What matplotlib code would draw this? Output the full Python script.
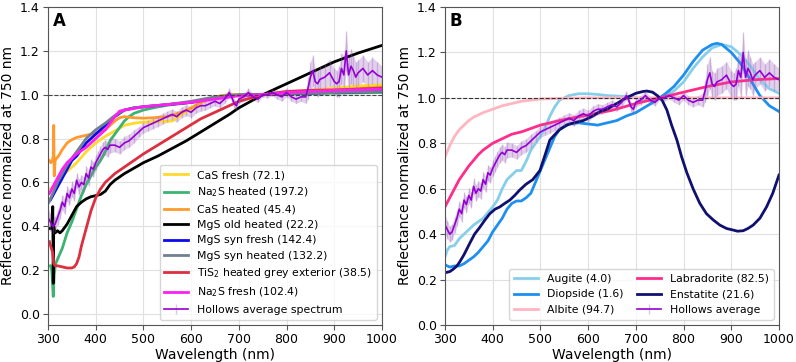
import numpy as np
import matplotlib
matplotlib.use('Agg')
import matplotlib.pyplot as plt

# hollows average spectrum (normalized at 750 nm)
hol_wl = [300,305,310,315,320,325,330,335,340,345,350,355,360,365,370,375,380,385,390,395,
          400,405,410,415,420,425,430,440,450,460,470,480,490,500,510,520,530,540,550,560,
          570,580,590,600,610,620,630,640,650,660,670,680,685,690,695,700,710,720,730,740,
          750,760,770,780,790,800,810,820,830,840,845,850,855,860,865,870,880,890,900,905,
          910,915,920,925,930,935,940,945,950,960,970,980,990,1000]
hol_val = [0.44,0.42,0.40,0.41,0.44,0.47,0.51,0.49,0.55,0.53,0.57,0.55,0.61,0.58,0.60,0.59,0.64,0.62,0.67,0.66,
           0.69,0.71,0.73,0.75,0.76,0.75,0.77,0.77,0.76,0.78,0.79,0.81,0.83,0.85,0.86,0.87,0.88,0.89,0.90,0.91,
           0.90,0.92,0.93,0.92,0.94,0.95,0.95,0.96,0.97,0.96,0.98,1.01,0.99,0.96,0.95,0.98,0.99,1.01,0.99,0.98,
           1.00,1.00,1.01,1.00,0.99,1.01,0.99,0.98,0.99,0.99,1.03,1.08,1.11,1.06,1.05,1.07,1.08,1.10,1.06,1.05,
           1.06,1.12,1.09,1.20,1.09,1.13,1.11,1.08,1.10,1.12,1.09,1.11,1.09,1.08]
hol_err = [0.04,0.04,0.035,0.035,0.035,0.035,0.035,0.035,0.035,0.035,0.035,0.035,0.035,0.035,0.035,0.035,0.035,0.035,0.035,0.035,
           0.035,0.035,0.035,0.035,0.035,0.035,0.035,0.03,0.03,0.03,0.03,0.03,0.025,0.025,0.025,0.025,0.025,0.025,0.025,0.025,
           0.025,0.025,0.025,0.025,0.025,0.025,0.02,0.02,0.02,0.02,0.02,0.02,0.02,0.02,0.02,0.02,0.02,0.02,0.015,0.015,
           0.01,0.015,0.015,0.02,0.02,0.02,0.02,0.02,0.02,0.03,0.05,0.07,0.07,0.06,0.06,0.06,0.06,0.06,0.06,0.06,
           0.07,0.07,0.09,0.09,0.08,0.08,0.07,0.07,0.06,0.06,0.06,0.06,0.06,0.05]

# panel A: sulfides
cas_fresh_wl = [305,310,320,330,340,350,360,380,400,420,440,460,480,500,520,540,560,580,600,620,640,660,680,700,750,800,850,900,950,1000]
cas_fresh = [0.57,0.58,0.60,0.63,0.65,0.67,0.69,0.74,0.78,0.81,0.835,0.86,0.87,0.875,0.877,0.878,0.88,0.91,0.935,0.96,0.985,0.995,1.0,1.0,1.0,1.01,1.02,1.03,1.04,1.045]

na2s_heat_wl = [305,308,311,313,316,320,330,340,350,360,370,380,390,400,410,420,430,440,450,460,470,480,500,520,550,600,650,700,750,800,900,1000]
na2s_heat = [0.22,0.20,0.08,0.18,0.23,0.25,0.30,0.37,0.42,0.48,0.54,0.59,0.63,0.67,0.70,0.74,0.79,0.82,0.85,0.88,0.90,0.915,0.93,0.94,0.952,0.965,0.985,0.998,1.0,1.003,1.007,1.01]

cas_heat_wl = [303,306,309,311,312,313,315,318,322,330,340,350,360,370,380,390,400,420,440,450,460,480,500,520,550,580,600,620,650,680,700,750,800,900,1000]
cas_heat = [0.70,0.69,0.70,0.72,0.86,0.63,0.70,0.71,0.72,0.75,0.78,0.795,0.805,0.81,0.815,0.82,0.825,0.84,0.88,0.895,0.90,0.895,0.893,0.895,0.90,0.92,0.94,0.965,0.99,1.0,1.0,1.0,1.01,1.02,1.035]

mgs_old_wl = [303,308,310,311,312,315,320,325,330,340,350,360,370,380,390,400,410,420,430,440,460,480,500,530,560,590,620,650,680,700,750,800,850,900,950,1000]
mgs_old = [0.39,0.39,0.49,0.14,0.40,0.37,0.38,0.37,0.38,0.41,0.45,0.49,0.51,0.525,0.535,0.54,0.545,0.56,0.59,0.61,0.64,0.665,0.69,0.72,0.755,0.79,0.83,0.87,0.91,0.94,1.0,1.05,1.10,1.15,1.19,1.225]

mgs_fresh_wl = [305,310,315,320,330,340,350,360,370,380,390,400,420,440,460,480,500,550,600,650,700,750,800,900,1000]
mgs_fresh = [0.52,0.54,0.56,0.58,0.62,0.66,0.70,0.72,0.75,0.78,0.80,0.82,0.86,0.90,0.93,0.94,0.945,0.955,0.965,0.985,0.998,1.0,1.005,1.01,1.015]

mgs_heat_wl = [302,310,320,330,340,350,360,370,380,390,400,420,440,460,480,500,550,600,650,700,750,800,900,1000]
mgs_heat = [0.51,0.55,0.60,0.64,0.68,0.71,0.74,0.77,0.80,0.82,0.84,0.87,0.905,0.93,0.94,0.945,0.955,0.97,0.99,1.0,1.0,1.005,1.01,1.015]

tis2_wl = [303,307,310,312,315,320,330,340,350,355,360,365,370,380,390,400,410,420,440,460,480,500,530,560,590,620,650,680,700,750,800,850,900,1000]
tis2 = [0.33,0.30,0.28,0.23,0.22,0.22,0.215,0.21,0.21,0.215,0.23,0.26,0.31,0.39,0.47,0.53,0.57,0.60,0.64,0.67,0.70,0.73,0.77,0.81,0.85,0.89,0.92,0.95,0.97,1.0,1.015,1.02,1.022,1.03]

na2s_fresh_wl = [303,308,315,320,330,340,350,360,370,380,390,400,410,420,430,440,450,460,480,500,550,600,650,700,750,800,850,900,1000]
na2s_fresh = [0.55,0.57,0.60,0.62,0.66,0.69,0.71,0.73,0.745,0.76,0.78,0.80,0.82,0.84,0.87,0.90,0.925,0.93,0.937,0.945,0.955,0.965,0.98,0.995,1.0,1.01,1.015,1.02,1.025]

# panel B: silicates
augite_wl = [300,305,310,320,330,340,350,360,370,380,390,400,410,420,430,440,450,460,470,480,490,500,510,520,530,540,550,560,580,600,620,640,660,680,700,720,750,780,800,820,840,860,880,900,920,940,960,980,1000]
augite = [0.30,0.33,0.345,0.35,0.38,0.40,0.42,0.44,0.455,0.47,0.495,0.52,0.55,0.60,0.64,0.66,0.68,0.68,0.72,0.77,0.80,0.83,0.87,0.92,0.96,0.99,1.00,1.01,1.018,1.018,1.015,1.01,1.008,1.005,1.0,0.99,1.0,1.03,1.07,1.13,1.18,1.22,1.235,1.225,1.19,1.14,1.08,1.04,1.02]

diopside_wl = [300,305,310,320,330,340,350,360,370,380,390,400,410,420,430,440,450,460,470,480,490,500,510,520,530,540,560,580,600,620,640,660,680,700,720,740,750,760,780,800,820,840,860,870,880,900,920,940,960,980,1000]
diopside = [0.265,0.26,0.255,0.26,0.26,0.27,0.285,0.30,0.32,0.345,0.37,0.41,0.44,0.47,0.51,0.535,0.546,0.546,0.56,0.58,0.63,0.68,0.73,0.78,0.83,0.86,0.885,0.89,0.885,0.88,0.89,0.90,0.92,0.935,0.96,0.985,1.0,1.015,1.05,1.10,1.16,1.21,1.235,1.24,1.235,1.20,1.15,1.08,1.01,0.965,0.94]

albite_wl = [300,310,320,330,340,350,360,370,380,400,420,440,460,480,500,550,600,700,800,900,1000]
albite = [0.74,0.79,0.83,0.86,0.88,0.90,0.915,0.925,0.935,0.95,0.965,0.975,0.985,0.99,0.995,0.998,1.0,1.0,1.0,1.0,1.0]

labra_wl = [300,310,320,330,340,350,360,370,380,390,400,420,440,460,480,500,540,600,650,700,750,800,850,900,950,1000]
labra = [0.52,0.56,0.60,0.64,0.67,0.70,0.725,0.75,0.77,0.785,0.80,0.82,0.84,0.85,0.865,0.88,0.90,0.925,0.945,0.975,1.0,1.025,1.05,1.07,1.08,1.085]

enst_wl = [300,310,317,325,331,340,352,362,373,383,394,405,415,425,436,446,457,470,484,499,510,520,540,555,570,590,610,625,640,660,680,700,715,723,735,745,755,765,775,786,796,807,820,834,848,862,876,890,904,913,925,935,946,960,974,987,1000]
enst = [0.23,0.235,0.245,0.26,0.278,0.31,0.36,0.40,0.43,0.46,0.49,0.51,0.52,0.535,0.55,0.57,0.595,0.62,0.64,0.68,0.75,0.815,0.86,0.88,0.89,0.90,0.92,0.94,0.95,0.975,1.0,1.02,1.028,1.03,1.025,1.01,0.99,0.947,0.88,0.815,0.74,0.67,0.60,0.536,0.49,0.463,0.44,0.425,0.418,0.413,0.415,0.425,0.44,0.47,0.52,0.58,0.66]

hol_color = '#9400D3'


def draw_hollows(ax, label):
    ax.fill_between(hol_wl, np.array(hol_val) - np.array(hol_err), np.array(hol_val) + np.array(hol_err),
                    color='#B07CC6', alpha=0.35, lw=0)
    ax.errorbar(hol_wl, hol_val, yerr=hol_err, color=hol_color, ecolor=(0.6, 0.4, 0.75, 0.35),
                lw=1.2, elinewidth=1, label=label)


fig = plt.figure(figsize=(7.96, 3.62), dpi=100)
axA = fig.add_axes([0.0603, 0.1022, 0.4196, 0.8785])
axB = fig.add_axes([0.559, 0.1022, 0.4196, 0.8785])

lw = 2
axA.plot(cas_fresh_wl, cas_fresh, color='#FFD92F', lw=lw, label='CaS fresh (72.1)')
axA.plot(na2s_heat_wl, na2s_heat, color='#3CB371', lw=lw, label='Na$_2$S heated (197.2)')
axA.plot(cas_heat_wl, cas_heat, color='#FF9A2E', lw=lw, label='CaS heated (45.4)')
axA.plot(mgs_old_wl, mgs_old, color='black', lw=lw, label='MgS old heated (22.2)')
axA.plot(mgs_fresh_wl, mgs_fresh, color='#0A0AF0', lw=lw, label='MgS syn fresh (142.4)')
axA.plot(mgs_heat_wl, mgs_heat, color='#708090', lw=lw, label='MgS syn heated (132.2)')
axA.plot(tis2_wl, tis2, color='#DC2F3F', lw=lw, label='TiS$_2$ heated grey exterior (38.5)')
axA.plot(na2s_fresh_wl, na2s_fresh, color='#FF1FF0', lw=lw, label='Na$_2$S fresh (102.4)')
draw_hollows(axA, 'Hollows average spectrum')
axA.axhline(1.0, color='#444444', ls='--', lw=0.8)
axA.set_ylim(-0.05, 1.4)

axB.plot(augite_wl, augite, color='#87CEEB', lw=lw, label='Augite (4.0)')
axB.plot(diopside_wl, diopside, color='#1E8FEF', lw=lw, label='Diopside (1.6)')
axB.plot(albite_wl, albite, color='#FFB6C1', lw=lw, label='Albite (94.7)')
axB.plot(labra_wl, labra, color='#FF2D8A', lw=lw, label='Labradorite (82.5)')
axB.plot(enst_wl, enst, color='#101070', lw=lw, label='Enstatite (21.6)')
draw_hollows(axB, 'Hollows average')
axB.axhline(1.0, color='#333333', ls='--', lw=0.8)
axB.set_ylim(0, 1.4)

for ax, tag in [(axA, 'A'), (axB, 'B')]:
    ax.set_xlim(300, 1000)
    ax.set_xticks(range(300, 1001, 100))
    ax.set_yticks(np.arange(0, 1.41, 0.2))
    ax.grid(True, color='#E0E0E0', lw=0.8)
    ax.set_axisbelow(True)
    ax.tick_params(labelsize=9, color='#555555', pad=2.5)
    for s in ax.spines.values():
        s.set_color('#555555')
    ax.set_xlabel('Wavelength (nm)', fontsize=10, labelpad=1)
    ax.set_ylabel('Reflectance normalized at 750 nm', fontsize=10, labelpad=3)
    ax.text(0.015, 0.985, tag, transform=ax.transAxes, fontsize=12, fontweight='bold', va='top', ha='left')

axA.legend(loc='lower right', fontsize=7.8, handlelength=2.2, labelspacing=0.5, borderpad=0.45)
axB.legend(loc='lower right', ncol=2, fontsize=7.8, handlelength=2.2, labelspacing=0.5, borderpad=0.45, columnspacing=1.3)

fig.savefig('out.png', dpi=100)
